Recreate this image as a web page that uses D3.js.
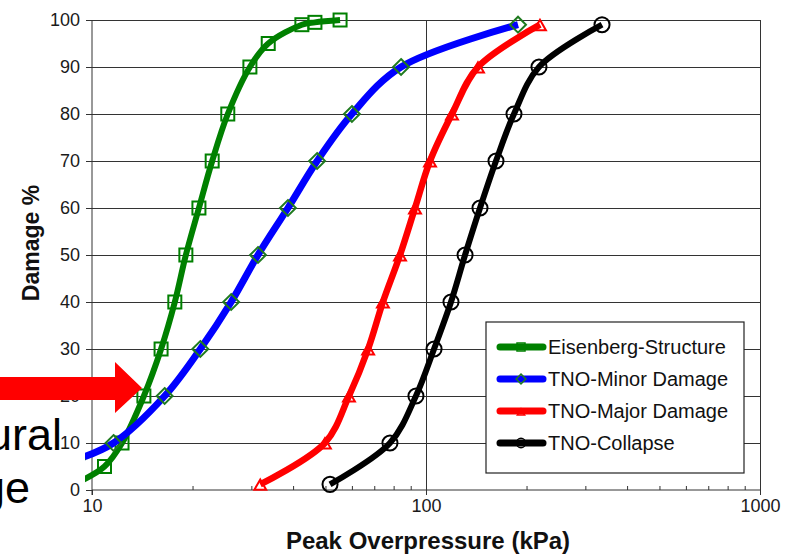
<!DOCTYPE html>
<html>
<head>
<meta charset="utf-8">
<script src="https://cdn.jsdelivr.net/npm/d3@7"></script>
<style>
  body { margin: 0; background: #fff; }
  svg { display: block; font-family: Arial, "Liberation Sans", sans-serif; }
  .axis path { display: none; }
  .axis line { stroke: #333; }
  .axis text { font-size: 18px; fill: #1a1a1a; }
</style>
</head>
<body>
<div class="grafico"></div>
<script>
// data: [kPa, damage %]
const eisenberg = [[9.0,1.5],[10.9,5],[12.3,10],[14.3,20],[16.1,30],[17.7,40],[19.1,50],[20.9,60],[22.9,70],[25.5,80],[29.7,90],[33.7,95],[42.5,99],[46.5,99.5],[55.3,100]];
const tnoMinor = [[9.0,6.5],[11.6,10],[16.5,20],[21.1,30],[26.1,40],[31.4,50],[38.6,60],[47.2,70],[60.0,80],[84.2,90],[188.6,99]];
const tnoMajor = [[31.9,1.2],[49.8,10],[58.8,20],[67.1,30],[74.3,40],[83.6,50],[92.7,60],[102.8,70],[119.6,80],[143.1,90],[219.4,99]];
const tnoCollapse = [[51.6,1.2],[78.0,10],[93.3,20],[105.7,30],[118.8,40],[130.9,50],[145.1,60],[162.0,70],[183.4,80],[217.9,90],[336.5,99]];

const seriesNames = ["Eisenberg-Structure","TNO-Minor Damage","TNO-Major Damage","TNO-Collapse"];
const yTicks = d3.range(0, 101, 10);
const xTicks = [10, 100, 1000];
const xMinor = [20,30,40,50,60,70,80,90,200,300,400,500,600,700,800,900];

const series = [
  {name: seriesNames[0], data: eisenberg, color: "#008000", marker: "square", mstroke: "#008000", lw: 6},
  {name: seriesNames[1], data: tnoMinor, color: "#0000ff", marker: "diamond", mstroke: "#1f7a1f", lw: 7},
  {name: seriesNames[2], data: tnoMajor, color: "#ff0000", marker: "triangle", mstroke: "#ff0000", lw: 6.5},
  {name: seriesNames[3], data: tnoCollapse, color: "#000000", marker: "circle", mstroke: "#000000", lw: 6}
];

var width = 794, height = 555;
var plot = {left: 92, right: 760, top: 20, bottom: 490};

var svg = d3.select(".grafico").append("svg")
  .attr("width", width).attr("height", height);

var x = d3.scaleLog().domain([10, 1000]).range([plot.left, plot.right]),
    y = d3.scaleLinear().domain([0, 100]).range([plot.bottom, plot.top]);

// horizontal grid
svg.append("g")
  .attr("class", "axis grid")
  .attr("transform", "translate(" + plot.left + ",0)")
  .call(d3.axisRight(y).tickValues(yTicks.slice(1)).tickSize(plot.right - plot.left).tickFormat(""));

// vertical lines at 100 and 1000
svg.append("g")
  .attr("class", "axis grid")
  .attr("transform", "translate(0," + plot.bottom + ")")
  .call(d3.axisTop(x).tickValues([100, 1000]).tickSize(plot.bottom - plot.top).tickFormat(""));

// axes
svg.append("g")
  .attr("class", "axis")
  .attr("transform", "translate(" + plot.left + ",0)")
  .call(d3.axisLeft(y).tickValues(yTicks).tickSize(6).tickPadding(6));

svg.append("g")
  .attr("class", "axis")
  .attr("transform", "translate(0," + plot.bottom + ")")
  .call(d3.axisBottom(x).tickValues(xTicks).tickFormat(d3.format("d")).tickSize(5).tickPadding(4));

svg.append("g")
  .attr("class", "axis")
  .attr("transform", "translate(0," + plot.bottom + ")")
  .call(d3.axisTop(x).tickValues(xMinor).tickSize(4).tickFormat(""));

svg.append("line")
  .attr("x1", plot.left).attr("x2", plot.left)
  .attr("y1", plot.top).attr("y2", plot.bottom + 5)
  .attr("stroke", "#333");
svg.append("line")
  .attr("x1", plot.left).attr("x2", plot.right)
  .attr("y1", plot.bottom).attr("y2", plot.bottom)
  .attr("stroke", "#333");

// titles
svg.append("text")
  .attr("x", (plot.left + plot.right) / 2 + 2).attr("y", 549)
  .attr("text-anchor", "middle")
  .attr("font-size", 24).attr("font-weight", "bold").attr("fill", "#111")
  .text("Peak Overpressure (kPa)");
svg.append("text")
  .attr("transform", "translate(39,243) rotate(-90)")
  .attr("text-anchor", "middle")
  .attr("font-size", 23).attr("font-weight", "bold").attr("fill", "#111")
  .text("Damage %");

// curves
svg.append("clipPath").attr("id", "clip")
  .append("rect").attr("x", 85).attr("y", 0).attr("width", 709).attr("height", 500);

var line = d3.line()
  .x(d => x(d[0])).y(d => y(d[1]))
  .curve(d3.curveCatmullRom.alpha(0.5));

function marker(sel, type, size) {
  if (type === "circle") {
    sel.append("circle").attr("r", size * 0.58);
  } else if (type === "square") {
    sel.append("rect").attr("x", -size / 2).attr("y", -size / 2).attr("width", size).attr("height", size);
  } else if (type === "diamond") {
    sel.append("path").attr("d", d3.symbol(d3.symbolDiamond2, size * size * 0.95)());
  } else {
    sel.append("path").attr("d", d3.symbol(d3.symbolTriangle2, size * size * 0.6)()).attr("transform", "translate(0,2)");
  }
}

var gCurves = svg.append("g").attr("clip-path", "url(#clip)");
series.forEach(s => {
  gCurves.append("path")
    .datum(s.data)
    .attr("fill", "none")
    .attr("stroke", s.color)
    .attr("stroke-width", s.lw)
    .attr("stroke-linejoin", "round")
    .attr("d", line);
  var m = gCurves.selectAll(".m-" + s.marker)
    .data(s.data)
    .enter().append("g")
    .attr("transform", d => "translate(" + x(d[0]) + "," + y(d[1]) + ")")
    .attr("fill", "none")
    .attr("stroke", s.mstroke)
    .attr("stroke-width", 2);
  m.each(function() { marker(d3.select(this), s.marker, 13); });
});

// legend
var lg = svg.append("g");
lg.append("rect")
  .attr("x", 486).attr("y", 322).attr("width", 258).attr("height", 151)
  .attr("fill", "#fff").attr("stroke", "#222").attr("stroke-width", 1.2);
series.forEach((s, i) => {
  var yy = 347 + i * 32;
  lg.append("line")
    .attr("x1", 500).attr("x2", 543).attr("y1", yy).attr("y2", yy)
    .attr("stroke", s.color).attr("stroke-width", 7).attr("stroke-linecap", "round");
  var m = lg.append("g")
    .attr("transform", "translate(521," + yy + ")")
    .attr("fill", "none").attr("stroke", s.mstroke).attr("stroke-width", 1.5);
  marker(m, s.marker, 8);
  lg.append("text")
    .attr("x", 548).attr("y", yy + 7)
    .attr("font-size", 20).attr("fill", "#111")
    .text(s.name);
});

// overlay from the slide: arrow and partly hidden caption
svg.append("path")
  .attr("d", "M0,377 L115,377 L115,362 L142,388 L115,413 L115,400 L0,400 Z")
  .attr("fill", "#ff0000");
svg.append("text")
  .attr("x", 62).attr("y", 450).attr("text-anchor", "end")
  .attr("font-size", 45).attr("fill", "#000")
  .text("Structural");
svg.append("text")
  .attr("x", 30).attr("y", 503).attr("text-anchor", "end")
  .attr("font-size", 45).attr("fill", "#000")
  .text("Damage");
</script>
</body>
</html>
